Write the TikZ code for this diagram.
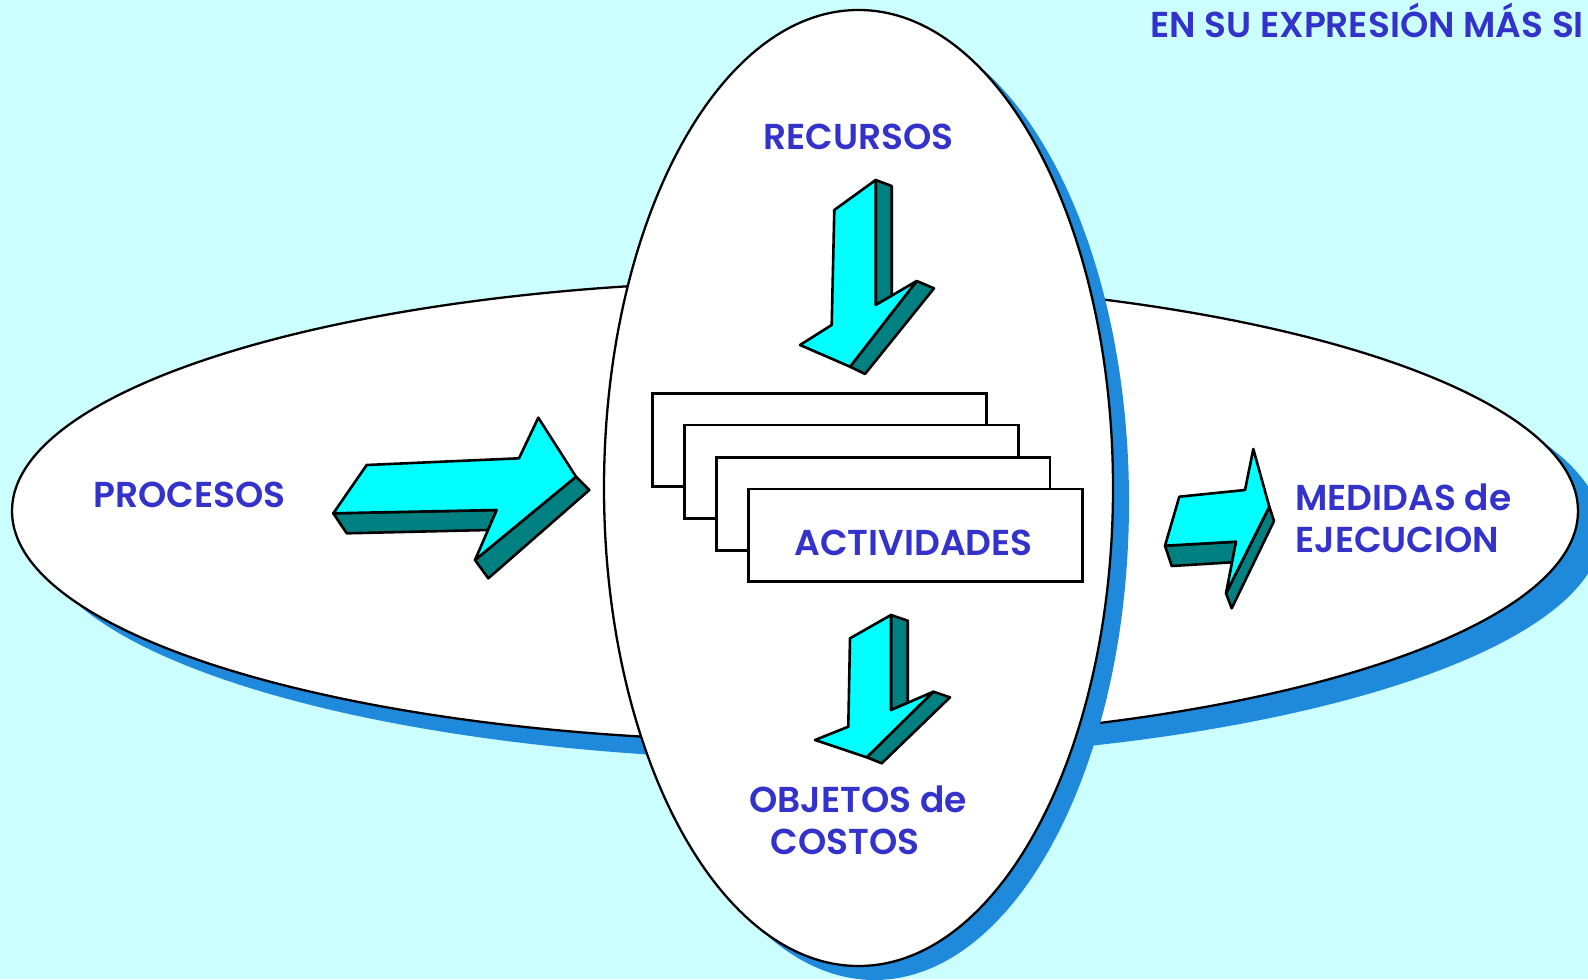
\documentclass[tikz,border=0pt]{standalone}
\usepackage{fontspec}
\setmainfont{Poppins}[BoldFont={Poppins SemiBold}]
\definecolor{bgc}{HTML}{CCFFFF}
\definecolor{shadowc}{RGB}{31,137,219}
\definecolor{txtc}{HTML}{3333CC}
\definecolor{arrface}{HTML}{00FFFF}
\definecolor{arrside}{HTML}{008080}
\tikzset{
  lbl/.style={inner sep=0pt, anchor=base west, text=txtc, font=\fontsize{18}{21}\selectfont\bfseries},
  face/.style={fill=arrface, draw=black, line width=1.3pt, line join=round},
  side/.style={fill=arrside, draw=black, line width=1.3pt, line join=round},
  card/.style={fill=white, draw=black, line width=1.3pt},
  oval/.style={fill=white, draw=black, line width=1.15pt},
  ovalshadow/.style={fill=shadowc}
}
\begin{document}
\begin{tikzpicture}[x=0.5pt,y=-0.5pt]
\useasboundingbox (0,0) rectangle (1588,979);
\clip (0,0) rectangle (1588,979);
\fill[bgc] (0,0) rectangle (1588,979);
% horizontal ellipse
\fill[ovalshadow] (819,530) ellipse [x radius=391.5pt, y radius=115pt];
\draw[oval] (795,511) ellipse [x radius=391.5pt, y radius=115pt];
% vertical ellipse
\fill[ovalshadow] (874.5,502) ellipse [x radius=127.25pt, y radius=239pt];
\draw[oval] (858.5,488) ellipse [x radius=127.25pt, y radius=239pt];
% arrow RECURSOS (down)
\draw[side] (875.7,180) -- (891.7,186) -- (891.7,296) -- (875.7,305) -- cycle;
\draw[side] (916.7,281) -- (934,288.3) -- (865,374) -- (850,366.7) -- cycle;
\draw[face] (834.3,210) -- (875.7,180) -- (875.7,305) -- (916.7,281) -- (850,366.7) -- (800,345) -- (831.7,325) -- cycle;
% arrow PROCESOS (right)
\draw[side] (333.3,513.3) -- (496.7,510) -- (488,530) -- (346.7,533.3) -- cycle;
\draw[side] (576,476.7) -- (589.3,490) -- (488.3,578.3) -- (475,560) -- cycle;
\draw[face] (333.3,513.3) -- (366.7,465) -- (519,458.3) -- (538.3,417.7) -- (576,476.7) -- (475,560) -- (496.7,510) -- cycle;
% arrow MEDIDAS (right)
\draw[side] (1165,545.7) -- (1236,541.7) -- (1232,562.3) -- (1171.7,566) -- cycle;
\draw[side] (1269.3,506.7) -- (1274,521) -- (1231.7,608.3) -- (1226,593.3) -- cycle;
\draw[face] (1165,545.7) -- (1179.3,496.7) -- (1245,490) -- (1253.3,449) -- (1269.3,506.7) -- (1226,593.3) -- (1236,541.7) -- cycle;
% arrow OBJETOS (down)
\draw[side] (891,615) -- (907.7,620.7) -- (907.7,703) -- (891,710) -- cycle;
\draw[side] (933.3,691.7) -- (950,697.3) -- (881.7,763.3) -- (866.7,757.3) -- cycle;
\draw[face] (850,638.3) -- (891,615) -- (891,710) -- (933.3,691.7) -- (866.7,757.3) -- (815,740) -- (848.3,726.7) -- cycle;
% stacked cards
\draw[card] (652.3,393.3) rectangle (986.7,486.7);
\draw[card] (684.3,425) rectangle (1018.3,518.3);
\draw[card] (716.7,457.3) rectangle (1050,550.7);
\draw[card] (748.3,489) rectangle (1082.7,581.7);
% labels
\node[lbl] (tit) at (1150,38) {EN SU EXPRESIÓN MÁS SI};
\node[lbl] (rec) at (763,149) {RECURSOS};
\node[lbl] (pro) at (93,507) {PROCESOS};
\node[lbl] (act) at (794,555) {ACTIVIDADES};
\node[lbl, align=left] (med) at (1295,552) {MEDIDAS de\\EJECUCION};
\node[lbl, align=left] (obj) at (749,854) {OBJETOS de\\\hspace*{10.5pt}COSTOS};
\end{tikzpicture}
\end{document}
